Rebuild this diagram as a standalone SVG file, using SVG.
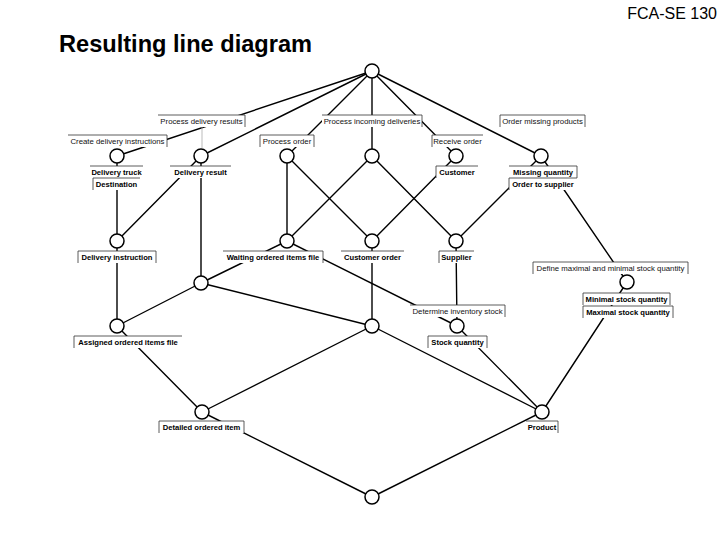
<svg xmlns="http://www.w3.org/2000/svg" width="720" height="540" viewBox="0 0 720 540">
<style>
.e{stroke:#000;stroke-width:1.4;fill:none;stroke-linecap:round}
.n{fill:#fff;stroke:#000;stroke-width:1.5}
.b{fill:#fff;stroke:none}
.s{fill:none;stroke:#333;stroke-width:0.8}
.t{font-family:"Liberation Sans",Arial,sans-serif;font-size:7.8px;text-anchor:middle;fill:#111}
.o{font-family:"Liberation Sans",Arial,sans-serif;font-size:7.6px;font-weight:bold;text-anchor:middle;fill:#000}
.ld{stroke:#aaa;stroke-width:0.8}
</style>
<rect width="720" height="540" fill="#fff"/>
<text x="717" y="19" font-family="Liberation Sans, Arial, sans-serif" font-size="16" text-anchor="end">FCA-SE 130</text>
<text x="59" y="52" font-family="Liberation Sans, Arial, sans-serif" font-size="23.6" font-weight="bold">Resulting line diagram</text>
<g id="connectors">
<line class="e" x1="372" y1="71" x2="117" y2="156"/>
<line class="e" x1="372" y1="71" x2="201" y2="156"/>
<line class="e" x1="372" y1="71" x2="287" y2="156"/>
<line class="e" x1="372" y1="71" x2="372" y2="156"/>
<line class="e" x1="372" y1="71" x2="456" y2="156"/>
<line class="e" x1="372" y1="71" x2="541" y2="156"/>
<line class="e" x1="117" y1="156" x2="117" y2="241"/>
<line class="e" x1="201" y1="156" x2="117" y2="241"/>
<line class="e" x1="201" y1="156" x2="201" y2="283"/>
<line class="e" x1="287" y1="156" x2="287" y2="241"/>
<line class="e" x1="287" y1="156" x2="372" y2="241"/>
<line class="e" x1="372" y1="156" x2="287" y2="241"/>
<line class="e" x1="372" y1="156" x2="456" y2="241"/>
<line class="e" x1="456" y1="156" x2="372" y2="241"/>
<line class="e" x1="541" y1="156" x2="456" y2="241"/>
<line class="e" x1="541" y1="156" x2="627" y2="282"/>
<line class="e" x1="117" y1="241" x2="117" y2="326"/>
<line class="e" x1="287" y1="241" x2="201" y2="283"/>
<line class="e" x1="287" y1="241" x2="457" y2="326"/>
<line class="e" x1="372" y1="241" x2="372" y2="326"/>
<line class="e" x1="456" y1="241" x2="457" y2="326"/>
<line class="e" x1="201" y1="283" x2="117" y2="326"/>
<line class="e" x1="201" y1="283" x2="372" y2="326"/>
<line class="e" x1="117" y1="326" x2="202" y2="412"/>
<line class="e" x1="372" y1="326" x2="202" y2="412"/>
<line class="e" x1="372" y1="326" x2="542" y2="412"/>
<line class="e" x1="457" y1="326" x2="542" y2="412"/>
<line class="e" x1="627" y1="282" x2="542" y2="412"/>
<line class="e" x1="202" y1="412" x2="372" y2="497"/>
<line class="e" x1="542" y1="412" x2="372" y2="497"/>
<line class="ld" x1="202" y1="127" x2="202" y2="148"/>
</g>
<g id="node-top"><circle class="n" cx="372" cy="71" r="7"/></g>
<g id="node-a">
<circle class="n" cx="117" cy="156" r="7"/>
<rect class="b" x="68" y="135" width="99" height="12"/><path class="s" d="M68 135H167V147"/><text class="t" x="117.5" y="143.8">Create delivery instructions</text>
<rect class="b" x="90" y="166" width="53" height="12"/><path class="s" d="M90 166H143"/><text class="o" x="116.5" y="174.8">Delivery truck</text>
<rect class="b" x="93" y="178" width="47" height="12"/><path class="s" d="M93 190V178H140"/><text class="o" x="116.5" y="186.8">Destination</text>
</g>
<g id="node-b">
<circle class="n" cx="201" cy="156" r="7"/>
<rect class="b" x="158" y="115" width="87" height="12"/><path class="s" d="M158 115H245V127"/><text class="t" x="201.5" y="123.8">Process delivery results</text>
<rect class="b" x="170" y="166" width="61" height="12"/><path class="s" d="M170 166H231"/><text class="o" x="200.5" y="174.8">Delivery result</text>
</g>
<g id="node-c">
<circle class="n" cx="287" cy="156" r="7"/>
<rect class="b" x="260" y="135" width="54" height="12"/><path class="s" d="M260 147V135H314V147"/><text class="t" x="287" y="143.8">Process order</text>
</g>
<g id="node-d">
<circle class="n" cx="372" cy="156" r="7"/>
<rect class="b" x="322" y="115" width="100" height="12"/><path class="s" d="M322 115H422V127"/><text class="t" x="372" y="123.8">Process incoming deliveries</text>
</g>
<g id="node-e">
<circle class="n" cx="456" cy="156" r="7"/>
<rect class="b" x="432" y="135" width="51" height="12"/><path class="s" d="M432 147V135H483"/><text class="t" x="457.5" y="143.8">Receive order</text>
<rect class="b" x="436" y="166" width="42" height="12"/><path class="s" d="M436 178V166H478"/><text class="o" x="457" y="174.8">Customer</text>
</g>
<g id="node-f">
<circle class="n" cx="541" cy="156" r="7"/>
<rect class="b" x="500" y="115" width="85" height="12"/><path class="s" d="M500 127V115H585V127"/><text class="t" x="542.5" y="123.8">Order missing products</text>
<rect class="b" x="509" y="166" width="68" height="12"/><path class="s" d="M509 166H577V178"/><text class="o" x="543" y="174.8">Missing quantity</text>
<rect class="b" x="509" y="178" width="68" height="12"/><path class="s" d="M509 190V178H577"/><text class="o" x="543" y="186.8">Order to supplier</text>
</g>
<g id="node-g">
<circle class="n" cx="117" cy="241" r="7"/>
<rect class="b" x="78" y="251" width="78" height="12"/><path class="s" d="M78 263V251H156V263"/><text class="o" x="117" y="259.8">Delivery instruction</text>
</g>
<g id="node-h">
<circle class="n" cx="287" cy="241" r="7"/>
<rect class="b" x="223" y="251" width="100" height="12"/><path class="s" d="M223 251H323V263"/><text class="o" x="273" y="259.8">Waiting ordered items file</text>
</g>
<g id="node-i">
<circle class="n" cx="372" cy="241" r="7"/>
<rect class="b" x="341" y="251" width="63" height="12"/><path class="s" d="M341 251H404"/><text class="o" x="372.5" y="259.8">Customer order</text>
</g>
<g id="node-j">
<circle class="n" cx="456" cy="241" r="7"/>
<rect class="b" x="439" y="251" width="35" height="12"/><path class="s" d="M439 263V251H474"/><text class="o" x="456.5" y="259.8">Supplier</text>
</g>
<g id="node-k">
<circle class="n" cx="627" cy="282" r="7"/>
<rect class="b" x="533" y="262" width="155" height="12"/><path class="s" d="M533 274V262H688V274"/><text class="t" x="610.5" y="270.8">Define maximal and minimal stock quantity</text>
<rect class="b" x="583" y="293" width="87" height="12"/><path class="s" d="M583 305V293H670V305"/><text class="o" x="626.5" y="301.8">Minimal stock quantity</text>
<rect class="b" x="583" y="306" width="90" height="12"/><path class="s" d="M583 318V306H673V318"/><text class="o" x="628" y="314.8">Maximal stock quantity</text>
</g>
<g id="node-l"><circle class="n" cx="201" cy="283" r="7"/></g>
<g id="node-m">
<circle class="n" cx="117" cy="326" r="7"/>
<rect class="b" x="74" y="336" width="108" height="12"/><path class="s" d="M74 348V336H182"/><text class="o" x="128" y="344.8">Assigned ordered items file</text>
</g>
<g id="node-n"><circle class="n" cx="372" cy="326" r="7"/></g>
<g id="node-o">
<circle class="n" cx="457" cy="326" r="7"/>
<rect class="b" x="410" y="305" width="95" height="12"/><path class="s" d="M410 305H505V317"/><text class="t" x="457.5" y="313.8">Determine inventory stock</text>
<rect class="b" x="428" y="336" width="59" height="12"/><path class="s" d="M428 348V336H487V348"/><text class="o" x="457.5" y="344.8">Stock quantity</text>
</g>
<g id="node-p">
<circle class="n" cx="202" cy="412" r="7"/>
<rect class="b" x="159" y="421" width="85" height="12"/><path class="s" d="M159 433V421H244V433"/><text class="o" x="201.5" y="429.8">Detailed ordered item</text>
</g>
<g id="node-q">
<circle class="n" cx="542" cy="412" r="7"/>
<rect class="b" x="526" y="421" width="32" height="12"/><path class="s" d="M526 421H558V433"/><text class="o" x="542" y="429.8">Product</text>
</g>
<g id="node-bottom"><circle class="n" cx="372" cy="497" r="7"/></g>
</svg>
